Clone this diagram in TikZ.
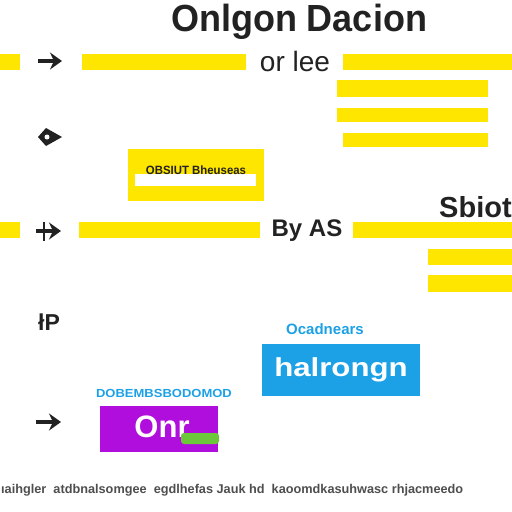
\documentclass[tikz,border=0pt]{standalone}
\usepackage{fontspec}
\setmainfont{Liberation Sans}
\usetikzlibrary{arrows.meta}
\definecolor{ybar}{HTML}{FFE600}
\definecolor{bluebox}{HTML}{1DA1E6}
\definecolor{purp}{HTML}{B00EDC}
\definecolor{grn}{HTML}{6CC83A}
\definecolor{ink}{HTML}{222222}
\begin{document}
\begin{tikzpicture}[x=1pt,y=-1pt,
  bar/.style={fill=ybar,draw=none,inner sep=0pt,outer sep=0pt},
  lbl/.style={text=ink,font=\bfseries\fontsize{24}{24}\selectfont,inner sep=0pt},
  arrowicon/.style={draw=ink,line width=3.6pt,-{Stealth[length=12pt,width=17pt,inset=4pt]}},
  capblue/.style={text=bluebox,font=\bfseries\fontsize{15}{15}\selectfont,inner sep=0pt}]
\useasboundingbox[fill=white] (0,0) rectangle (512,512);
% title
\node[text=ink,font=\bfseries\fontsize{36}{36}\selectfont,inner sep=0pt] (title) at (299,22) {\scalebox{1}[1.05]{Onlgon Dacion}};
% row 1
\node[bar,minimum width=20,minimum height=16] (b1a) at (10,62) {};
\node[bar,minimum width=164,minimum height=16] (b1b) at (164,62) {};
\node[bar,minimum width=169,minimum height=16] (b1c) at (427.5,62) {};
\node[lbl,font=\fontsize{28}{28}\selectfont] (t1) at (295,61) {or lee};
\coordinate (a1s) at (38,61); \coordinate (a1e) at (62,61);
\draw[arrowicon] (a1s) -- (a1e);
\node[bar,minimum width=151,minimum height=17] (b2) at (412.5,88.5) {};
\node[bar,minimum width=151,minimum height=14] (b3) at (412.5,115) {};
\node[bar,minimum width=145,minimum height=14] (b4) at (415.5,140) {};
% row 2 icon
\fill[ink] (38,137) -- (46,128) -- (62,137) -- (46,146) -- cycle;
\fill[white] (47,137) circle (2.5);
% yellow box
\node[bar,minimum width=136,minimum height=52] (ybox) at (196,175) {};
\node[fill=white,inner sep=0pt,minimum width=121,minimum height=12] (ystrip) at (195.5,180) {};
\node[text=ink,font=\bfseries\fontsize{12}{12}\selectfont,inner sep=0pt] (ytext) at (196,170) {\scalebox{0.95}[1]{OBSIUT Bheuseas}};
% row 3
\node[bar,minimum width=20,minimum height=16] (b5a) at (10,230) {};
\node[bar,minimum width=181,minimum height=16] (b5b) at (169.5,230) {};
\node[bar,minimum width=159,minimum height=16] (b5c) at (432.5,230) {};
\node[lbl] (t3) at (307,231) {By AS};
\node[lbl,font=\bfseries\fontsize{29}{29}\selectfont,anchor=west] (t4) at (439,207) {Sbiot};
\coordinate (a3s) at (36,231); \coordinate (a3e) at (61,231);
\draw[arrowicon] (a3s) -- (a3e);
\draw[ink,line width=1.8pt] (44,222) -- (44,241);
\node[bar,minimum width=84,minimum height=16] (b6) at (470,257) {};
\node[bar,minimum width=84,minimum height=17] (b7) at (470,283.5) {};
% row 4 icon
\node[text=ink,font=\bfseries\fontsize{23}{23}\selectfont,inner sep=0pt] (icon4) at (49,322) {łP};
% blue box
\node[capblue] (cap1) at (325,329) {Ocadnears};
\node[fill=bluebox,text=white,inner sep=0pt,minimum width=158,minimum height=52,font=\bfseries\fontsize{26}{26}\selectfont] (hbox) at (341,370) {\scalebox{1.2}[1]{halrongn}};
% purple box
\node[capblue,font=\bfseries\fontsize{13}{13}\selectfont] (cap2) at (164,393) {\scalebox{1}[0.9]{DOBEMBSBODOMOD}};
\node[fill=purp,inner sep=0pt,minimum width=118,minimum height=46] (pbox) at (159,429) {};
\node[text=white,font=\bfseries\fontsize{31}{31}\selectfont,inner sep=0pt] (ptext) at (162,427) {Onr};
\fill[grn,rounded corners=3pt] (181,433) rectangle (219,444);
\coordinate (a5s) at (36,422); \coordinate (a5e) at (61,422);
\draw[arrowicon] (a5s) -- (a5e);
% bottom text
\node[text=ink!80,font=\bfseries\fontsize{9}{9}\selectfont,inner sep=0pt,anchor=west] (foot) at (1,490) {\resizebox{462pt}{!}{ıaihgler\ \ atdbnalsomgee\ \ egdlhefas Jauk hd\ \ kaoomdkasuhwasc rhjacmeedo}};
\end{tikzpicture}
\end{document}
